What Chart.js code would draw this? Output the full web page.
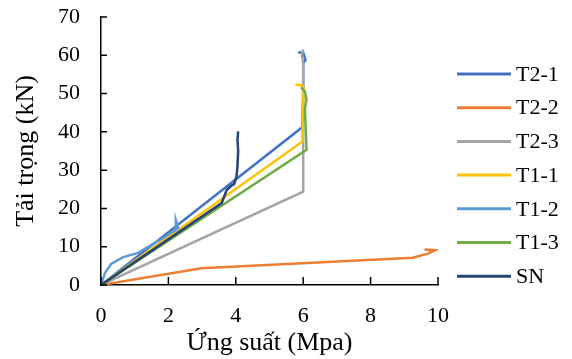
<!DOCTYPE html>
<html>
<head>
<meta charset="utf-8">
<script src="https://cdn.jsdelivr.net/npm/chart.js@4.4.1/dist/chart.umd.min.js"></script>
<style>
  html, body { margin: 0; padding: 0; background: #fff; }
  #wrap { width: 572px; height: 359px; position: relative; }
</style>
</head>
<body>
<div id="wrap"><canvas id="c" width="572" height="359"></canvas></div>
<script>
// ---- Data ----
const seriesNames = ["T2-1", "T2-2", "T2-3", "T1-1", "T1-2", "T1-3", "SN"];

const t21X = [0, 5.97, 6.0, 6.0, 6.07, 6.0, 5.85];
const t21Y = [0, 41.2, 50, 58, 58.7, 60.7, 60.7];

const t22X = [0, 2.98, 9.25, 9.7, 9.92, 9.6];
const t22Y = [0, 4.4, 7.1, 8.2, 9.1, 9.3];

const t23X = [0, 6.0, 6.0, 5.96, 6.0];
const t23Y = [0, 24.4, 58, 60, 61.5];

const t11X = [0, 5.98, 5.98, 6.02, 5.95, 5.77];
const t11Y = [0, 37.5, 45, 51.5, 52.2, 52.3];

const t12X = [0, 0.12, 0.3, 0.66, 1.1, 1.45, 1.8, 2.2, 2.22, 2.28, 2.3];
const t12Y = [0, 3.2, 5.5, 7.3, 8.4, 10.2, 12, 14.3, 17.0, 15.2, 14.5];

const t13X = [0, 6.1, 6.08, 6.05, 6.1, 6.05, 5.93];
const t13Y = [0, 35.3, 40, 46, 48.5, 50.6, 51.6];

const snX = [0, 3.58, 3.73, 3.85, 3.95, 4.02, 4.05, 4.07, 4.05, 4.07];
const snY = [0, 21.4, 24.8, 25.8, 26.4, 28.3, 31, 35, 38, 40.1];

const xTicks = [0, 2, 4, 6, 8, 10];
const yTicks = [0, 10, 20, 30, 40, 50, 60, 70];

const xTitle = "Ứng suất (Mpa)";
const yTitle = "Tải trọng (kN)";

const colors = ["#4472C4", "#ED7D31", "#A5A5A5", "#FFC000", "#5B9BD5", "#70AD47", "#264478"];

// ---- Build datasets ----
const xs = [t21X, t22X, t23X, t11X, t12X, t13X, snX];
const ys = [t21Y, t22Y, t23Y, t11Y, t12Y, t13Y, snY];
const datasets = seriesNames.map((name, i) => ({
  label: name,
  data: xs[i].map((x, k) => ({ x: x, y: ys[i][k] })),
  borderColor: colors[i],
  backgroundColor: colors[i],
  borderWidth: 2.5,
  showLine: true,
  pointRadius: 0,
  pointHoverRadius: 0,
  tension: 0,
  fill: false,
  order: -i
}));

const FONT = '"Liberation Serif", "Times New Roman", serif';

// Inward tick marks
const innerTicks = {
  id: 'innerTicks',
  afterDraw(chart) {
    const ctx = chart.ctx;
    const xs = chart.scales.x, ys = chart.scales.y;
    const area = chart.chartArea;
    ctx.save();
    ctx.strokeStyle = '#000';
    ctx.lineWidth = 1.5;
    ctx.beginPath();
    xs.ticks.forEach(t => {
      const px = xs.getPixelForValue(t.value);
      ctx.moveTo(px, area.bottom);
      ctx.lineTo(px, area.bottom - 8);
    });
    ys.ticks.forEach(t => {
      const py = ys.getPixelForValue(t.value);
      ctx.moveTo(area.left, py);
      ctx.lineTo(area.left + 6, py);
    });
    ctx.stroke();
    ctx.restore();
  }
};

// Custom legend on the right
const sideLegend = {
  id: 'sideLegend',
  afterDraw(chart) {
    const ctx = chart.ctx;
    ctx.save();
    ctx.font = '22px ' + FONT;
    ctx.textBaseline = 'middle';
    ctx.fillStyle = '#000';
    chart.data.datasets.forEach((ds, i) => {
      const y = 74 + i * 33.7;
      ctx.strokeStyle = ds.borderColor;
      ctx.lineWidth = 3;
      ctx.beginPath();
      ctx.moveTo(457, y);
      ctx.lineTo(511, y);
      ctx.stroke();
      ctx.fillText(ds.label, 516, y + 1);
    });
    ctx.restore();
  }
};

new Chart(document.getElementById('c'), {
  type: 'scatter',
  data: { datasets: datasets },
  options: {
    responsive: false,
    animation: false,
    devicePixelRatio: 1,
    layout: { padding: { left: 0, right: 134, top: 17, bottom: 0 } },
    plugins: {
      legend: { display: false },
      tooltip: { enabled: false }
    },
    scales: {
      x: {
        type: 'linear',
        min: 0, max: 10,
        afterBuildTicks: (s) => { s.ticks = xTicks.map(v => ({ value: v })); },
        afterFit: (s) => { s.height = 74; s.paddingLeft = 0; s.paddingRight = 0; },
        grid: { display: true, drawOnChartArea: false, drawTicks: false },
        border: { display: true, color: '#000', width: 1.5 },
        ticks: { color: '#000', font: { family: FONT, size: 22 }, padding: 18, maxRotation: 0 },
        title: { display: true, text: xTitle, color: '#000', font: { family: FONT, size: 26 }, padding: { top: 0, bottom: 0 } }
      },
      y: {
        type: 'linear',
        min: 0, max: 70,
        afterBuildTicks: (s) => { s.ticks = yTicks.map(v => ({ value: v })); },
        afterFit: (s) => { s.width = 101; s.paddingTop = 0; s.paddingBottom = 0; },
        grid: { display: true, drawOnChartArea: false, drawTicks: false },
        border: { display: true, color: '#000', width: 1.5 },
        ticks: { color: '#000', font: { family: FONT, size: 22 }, padding: 21 },
        title: { display: true, text: yTitle, color: '#000', font: { family: FONT, size: 26 }, padding: { top: 11, bottom: 0 } }
      }
    }
  },
  plugins: [innerTicks, sideLegend]
});
</script>
</body>
</html>
